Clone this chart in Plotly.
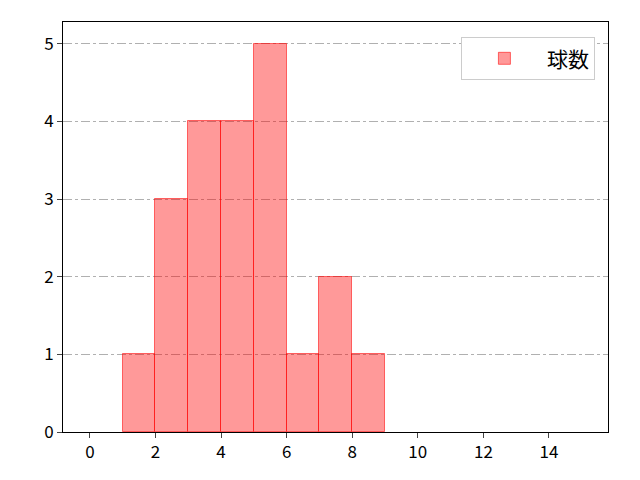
import plotly.graph_objects as go

# histogram bins (left edges) and counts
bin_left = [1, 2, 3, 4, 5, 6, 7, 8]
counts = [1, 3, 4, 4, 5, 1, 2, 1]
series_name = "球数"

x_ticks = [0, 2, 4, 6, 8, 10, 12, 14]
y_ticks = [0, 1, 2, 3, 4, 5]

fig = go.Figure()
fig.add_trace(go.Bar(
    x=[b + 0.5 for b in bin_left],
    y=counts,
    width=1,
    name=series_name,
    marker=dict(color="rgba(255,0,0,0.4)",
                line=dict(color="rgba(255,0,0,0.55)", width=1)),
    showlegend=True,
))

fig.update_layout(
    width=640, height=480,
    margin=dict(l=55, r=40, t=14, b=56),
    plot_bgcolor="white", paper_bgcolor="white",
    font=dict(family="Noto Sans CJK JP, DejaVu Sans", size=17, color="black"),
    bargap=0,
    showlegend=True,
    legend=dict(x=0.976, y=0.963, xanchor="right", yanchor="top",
                bordercolor="#cccccc", borderwidth=1, bgcolor="white",
                itemwidth=75, font=dict(size=21)),
)
fig.update_xaxes(range=[-0.82, 15.8], tickvals=x_ticks, ticks="outside",
                 ticklen=5, showgrid=False, zeroline=False,
                 showline=True, linecolor="black", mirror=True)
fig.update_yaxes(range=[0, 5.28], tickvals=y_ticks, ticks="outside",
                 ticklen=5, showgrid=True, gridcolor="#b0b0b0",
                 griddash="dashdot", gridwidth=1, zeroline=False,
                 showline=True, linecolor="black", mirror=True)

fig.write_html("out.html")
